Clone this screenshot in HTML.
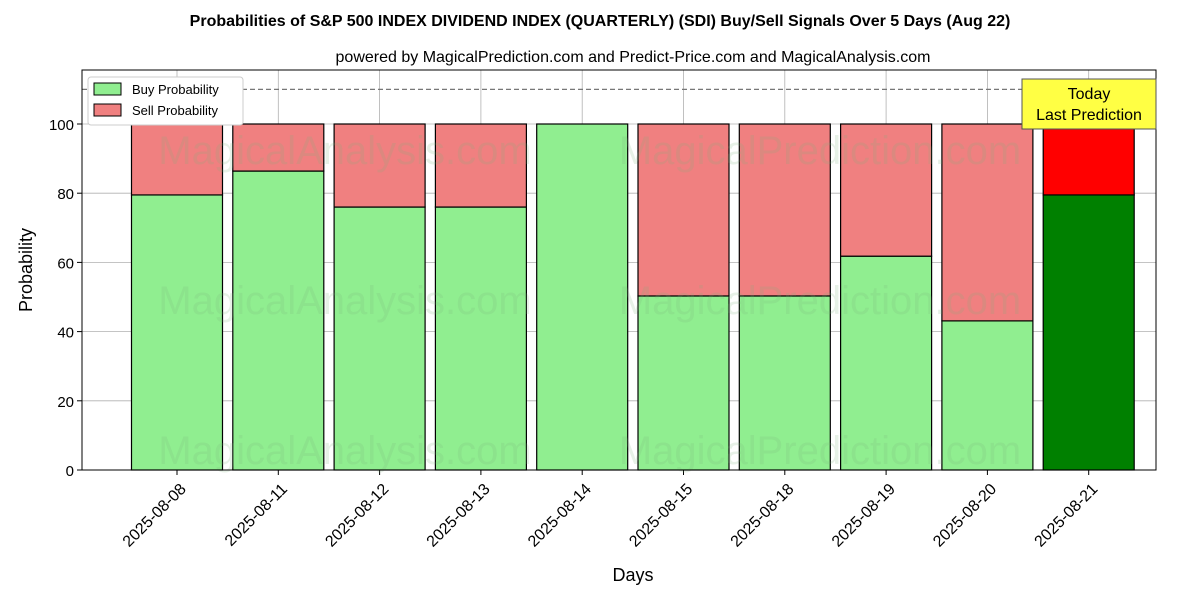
<!DOCTYPE html>
<html><head><meta charset="utf-8"><style>
body{margin:0;background:#fff;font-family:"Liberation Sans","DejaVu Sans",sans-serif}
</style></head><body>
<svg id="c" width="1200" height="600" xmlns="http://www.w3.org/2000/svg">
<text x="600" y="26" text-anchor="middle" font-size="16" font-weight="bold">Probabilities of S&amp;P 500 INDEX DIVIDEND INDEX (QUARTERLY) (SDI) Buy/Sell Signals Over 5 Days (Aug 22)</text>
<text x="633" y="62" text-anchor="middle" font-size="16">powered by MagicalPrediction.com and Predict-Price.com and MagicalAnalysis.com</text>
<g id="plot"></g>
<text x="633" y="581" text-anchor="middle" font-size="18">Days</text>
<text x="32" y="270" text-anchor="middle" font-size="18" transform="rotate(-90 32 270)">Probability</text>
</svg>
<script>
const categories=["2025-08-08","2025-08-11","2025-08-12","2025-08-13","2025-08-14","2025-08-15","2025-08-18","2025-08-19","2025-08-20","2025-08-21"];
const buyValues=[79.5,86.4,76.0,76.0,100,50.3,50.3,61.8,43.1,79.5];
const yTicks=[0,20,40,60,80,100];
const L=82,R=1156,T=70,B=470;
const y=v=>B-v*3.46;
const x=i=>177+i*101.3;
const bw=91;
const ns="http://www.w3.org/2000/svg";
const g=document.getElementById('plot');
function mk(t,a,p){const e=document.createElementNS(ns,t);for(const k in a)e.setAttribute(k,a[k]);(p||g).appendChild(e);return e;}
yTicks.forEach(v=>{
const l=mk('line',{x1:L,x2:R,y1:y(v),y2:y(v),stroke:'#b0b0b0','stroke-width':0.8});


const t=mk('text',{x:L-8,y:y(v)+6,'text-anchor':'end','font-size':15});t.textContent=v;


mk('line',{x1:L-5,x2:L,y1:y(v),y2:y(v),stroke:'#000'});
});
categories.forEach((c,i)=>{
const l=mk('line',{x1:x(i),x2:x(i),y1:T,y2:B,stroke:'#b0b0b0','stroke-width':0.8});


});
categories.forEach((c,i)=>{
const last=i===categories.length-1;
const b=buyValues[i];
const r1=mk('rect',{x:x(i)-bw/2,y:y(b),width:bw,height:y(0)-y(b),fill:last?'#008000':'#90ee90',stroke:'#000','stroke-width':1.2});


const r2=mk('rect',{x:x(i)-bw/2,y:y(100),width:bw,height:y(b)-y(100),fill:last?'#ff0000':'#f08080',stroke:'#000','stroke-width':1.2});


mk('line',{x1:x(i),x2:x(i),y1:B,y2:B+5,stroke:'#000'});
const tx=x(i)+2, ty=B+12;
const t=mk('text',{x:tx,y:ty,'text-anchor':'end','font-size':16,transform:`rotate(-45 ${tx} ${ty})`,dy:'0.7em'});
t.textContent=c;


});
[[345,150],[820,150],[345,300],[820,300],[345,450],[820,450]].forEach((p,k)=>{
const t=mk('text',{x:p[0],y:p[1]+14,'text-anchor':'middle','font-size':40,fill:'rgba(120,180,120,0.18)'});
t.textContent=(k%2==0)?'MagicalAnalysis.com':'MagicalPrediction.com';


});
const dl=mk('line',{x1:L,x2:R,y1:y(110),y2:y(110),stroke:'#777','stroke-dasharray':'5,3','stroke-width':1.2});


const ax=mk('rect',{x:L,y:T,width:R-L,height:B-T,fill:'none',stroke:'#000','stroke-width':1});


const ab=mk('rect',{x:1022,y:79,width:134,height:50,fill:'#ffff44',stroke:'#555'});


const a1=mk('text',{x:1089,y:99,'text-anchor':'middle','font-size':16});a1.textContent='Today';
const a2=mk('text',{x:1089,y:120,'text-anchor':'middle','font-size':16});a2.textContent='Last Prediction';
const lg=mk('g',{});


mk('rect',{x:88,y:77,width:155,height:48,fill:'#fff',stroke:'#ccc',rx:3},lg);
const e1=mk('rect',{x:94,y:83,width:27,height:12,fill:'#90ee90',stroke:'#000'},lg);


const t1=mk('text',{x:132,y:94,'font-size':13},lg);t1.textContent='Buy Probability';
const e2=mk('rect',{x:94,y:104,width:27,height:12,fill:'#f08080',stroke:'#000'},lg);


const t2=mk('text',{x:132,y:115,'font-size':13},lg);t2.textContent='Sell Probability';
</script>
</body></html>
